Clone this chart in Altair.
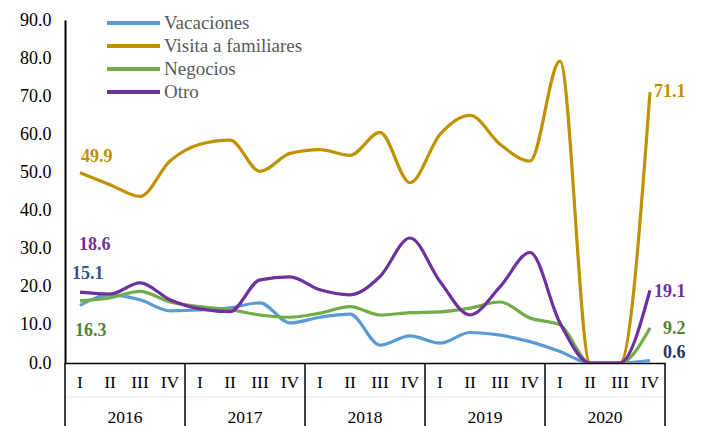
import altair as alt
import pandas as pd

series = ["Vacaciones", "Visita a familiares", "Negocios", "Otro"]
colors = ["#5B9BD5", "#C09200", "#70AD47", "#7030A0"]

quarters = ["I", "II", "III", "IV"] * 5
years = ["2016", "2017", "2018", "2019", "2020"]

vacaciones = [15.1, 17.9, 16.6, 13.7, 13.9, 14.5, 15.8, 10.5, 12.0, 12.8,
              4.7, 7.1, 5.2, 8.0, 7.3, 5.6, 3.0, 0.0, 0.0, 0.6]
visita = [49.9, 46.8, 43.7, 53.0, 57.4, 58.5, 50.3, 55.0, 56.0, 54.5,
          60.5, 47.3, 60.0, 65.0, 57.4, 53.0, 79.2, 0.0, 0.0, 71.1]
negocios = [16.3, 17.1, 18.8, 16.0, 14.8, 14.0, 12.6, 12.0, 13.1, 14.8,
            12.6, 13.2, 13.4, 14.4, 16.0, 11.8, 10.0, 0.0, 0.0, 9.2]
otro = [18.6, 18.1, 21.0, 16.6, 14.2, 13.5, 21.8, 22.6, 19.2, 17.9,
        22.7, 32.8, 21.4, 12.6, 20.0, 29.0, 10.5, 0.0, 0.0, 19.1]

values = [vacaciones, visita, negocios, otro]

rows = []
for s, vals in zip(series, values):
    for i, v in enumerate(vals):
        rows.append({"idx": i, "serie": s, "value": v})
df = pd.DataFrame(rows)

FONT = "Times New Roman, Liberation Serif, DejaVu Serif, serif"

xscale = alt.Scale(domain=[-0.5, 19.5], nice=False, zero=False)
yscale = alt.Scale(domain=[0, 90], nice=False)

xaxis = alt.Axis(labels=False, ticks=False, grid=False, title=None,
                 domainColor="black", domainWidth=1.5)
yaxis = alt.Axis(values=list(range(0, 91, 10)), format=".1f", grid=False,
                 ticks=False, title=None, domainColor="black", domainWidth=2,
                 labelFont=FONT, labelFontSize=18, labelColor="black",
                 labelPadding=14, labelOverlap=False, tickCount=10)

lines = alt.Chart(df).mark_line(interpolate="monotone", strokeWidth=3.2, clip=True).encode(
    x=alt.X("idx:Q", scale=xscale, axis=xaxis),
    y=alt.Y("value:Q", scale=yscale, axis=yaxis),
    color=alt.Color("serie:N", scale=alt.Scale(domain=series, range=colors), legend=None),
    detail="serie:N",
)

# value labels
lab_rows = [
    {"idx": 0, "value": visita[0], "text": "49.9", "color": "#BF9000", "dx": 1, "dy": -16},
    {"idx": 0, "value": otro[0], "text": "18.6", "color": "#7030A0", "dx": -1, "dy": -47},
    {"idx": 0, "value": vacaciones[0], "text": "15.1", "color": "#2F5597", "dx": -8, "dy": -31},
    {"idx": 0, "value": negocios[0], "text": "16.3", "color": "#548235", "dx": -5, "dy": 30},
    {"idx": 19, "value": visita[19], "text": "71.1", "color": "#BF9000", "dx": 4, "dy": 0},
    {"idx": 19, "value": otro[19], "text": "19.1", "color": "#7030A0", "dx": 4, "dy": 2},
    {"idx": 19, "value": negocios[19], "text": "9.2", "color": "#548235", "dx": 13, "dy": 1},
    {"idx": 19, "value": vacaciones[19], "text": "0.6", "color": "#1F3864", "dx": 13, "dy": -8},
]
labels = []
for r in lab_rows:
    labels.append(
        alt.Chart(pd.DataFrame([r])).mark_text(
            font=FONT, fontSize=18, fontWeight="bold", align="left", baseline="middle",
            dx=r["dx"], dy=r["dy"], color=r["color"]
        ).encode(x=alt.X("idx:Q", scale=xscale, axis=xaxis),
                 y=alt.Y("value:Q", scale=yscale, axis=yaxis), text="text:N")
    )

# quarter labels
qdf = pd.DataFrame({"idx": list(range(20)), "q": quarters})
qtext = alt.Chart(qdf).mark_text(font=FONT, fontSize=17.5, color="black", baseline="middle").encode(
    x=alt.X("idx:Q", scale=xscale, axis=xaxis), y=alt.value(363), text="q:N")

ydf = pd.DataFrame({"idx": [1.5, 5.5, 9.5, 13.5, 17.5], "y": years})
ytext = alt.Chart(ydf).mark_text(font=FONT, fontSize=17.5, color="black", baseline="middle").encode(
    x=alt.X("idx:Q", scale=xscale, axis=xaxis), y=alt.value(398), text="y:N")

sdf = pd.DataFrame({"pos": [-0.5, 3.5, 7.5, 11.5, 15.5, 19.5]})
seps = alt.Chart(sdf).mark_rule(color="black", strokeWidth=1.5).encode(
    x=alt.X("pos:Q", scale=xscale, axis=xaxis), y=alt.value(343), y2=alt.value(420))

faint = alt.Chart(pd.DataFrame({"a": [-0.5], "b": [19.5]})).mark_rule(color="#e8e8e8", strokeWidth=1).encode(
    x=alt.X("a:Q", scale=xscale, axis=xaxis), x2="b:Q", y=alt.value(377))

# legend
ldf = pd.DataFrame({"serie": series, "row": [0, 1, 2, 3]})
ldf["y"] = 3 + 23 * ldf["row"]
leg_lines = alt.Chart(ldf).mark_rule(strokeWidth=4).encode(
    x=alt.value(42), x2=alt.value(95), y=alt.Y("y:Q", scale=None),
    color=alt.Color("serie:N", scale=alt.Scale(domain=series, range=colors), legend=None))
leg_text = alt.Chart(ldf).mark_text(font=FONT, fontSize=19, color="#595959", align="left",
                                    baseline="middle").encode(
    x=alt.value(99), y=alt.Y("y:Q", scale=None), text="serie:N")

chart = alt.layer(faint, seps, lines, *labels, qtext, ytext, leg_lines, leg_text).properties(
    width=600, height=343, autosize="none",
    padding={"left": 57, "top": 12, "right": 28, "bottom": 63},
).configure_view(stroke=None)

chart.save("out.html", embed_options={"renderer": "svg", "actions": False})
